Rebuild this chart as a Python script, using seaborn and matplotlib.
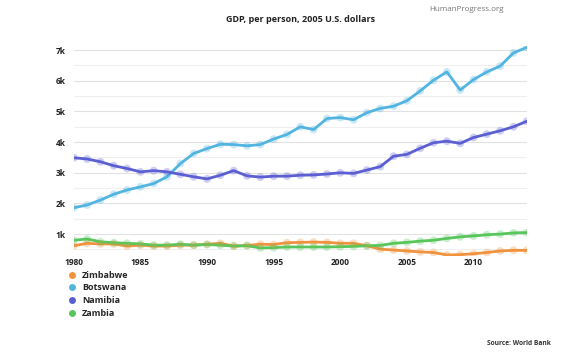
import matplotlib.pyplot as plt
import matplotlib.ticker as mticker
from matplotlib.lines import Line2D
import pandas as pd
import seaborn as sns

years = list(range(1980, 2015))

zimbabwe = [620, 700, 680, 680, 610, 640, 610, 610, 640, 640,
            670, 700, 610, 630, 670, 660, 720, 730, 740, 730,
            700, 700, 620, 510, 480, 450, 420, 400, 320, 330,
            360, 400, 450, 470, 470]
botswana = [1860, 1950, 2110, 2300, 2440, 2540, 2650, 2870, 3300, 3630,
            3790, 3930, 3920, 3880, 3920, 4100, 4250, 4500, 4410, 4770,
            4800, 4730, 4960, 5100, 5170, 5350, 5670, 6020, 6290, 5700,
            6040, 6290, 6480, 6910, 7090]
namibia = [3490, 3450, 3360, 3230, 3140, 3030, 3070, 3030, 2950, 2870,
           2800, 2920, 3070, 2900, 2860, 2890, 2890, 2920, 2930, 2960,
           3000, 2980, 3090, 3200, 3540, 3600, 3800, 3980, 4030, 3960,
           4150, 4260, 4370, 4500, 4680]
zambia = [800, 840, 750, 720, 700, 680, 640, 640, 670, 640,
          660, 640, 610, 620, 550, 560, 580, 580, 580, 580,
          590, 600, 620, 630, 700, 730, 770, 800, 860, 910,
          940, 980, 1000, 1040, 1050]

countries = ["Zimbabwe", "Botswana", "Namibia", "Zambia"]
colors = ["#f0923e", "#52b4e0", "#5b5fd2", "#57c75c"]

df = pd.DataFrame({
    "year": years * 4,
    "gdp": zimbabwe + botswana + namibia + zambia,
    "country": [c for c in countries for _ in years],
})
palette = dict(zip(countries, colors))

sns.set_theme(style="white")
plt.rcParams["font.family"] = ["Open Sans", "DejaVu Sans"]

fig = plt.figure(figsize=(5.72, 3.53), dpi=100)
ax = fig.add_axes([0.129, 0.276, 0.792, 0.595])

sns.lineplot(data=df, x="year", y="gdp", hue="country", palette=palette,
             hue_order=countries, linewidth=2, ax=ax, legend=False, zorder=3)
sns.scatterplot(data=df, x="year", y="gdp", hue="country", palette=palette,
                hue_order=countries, s=32, alpha=0.3, linewidth=0, ax=ax,
                legend=False, zorder=4)

ax.set_xlim(1980, 2014)
ax.set_ylim(300, 7150)
ax.set_xlabel("")
ax.set_ylabel("")
ax.set_xticks([1980, 1985, 1990, 1995, 2000, 2005, 2010])
ax.yaxis.set_major_locator(mticker.MultipleLocator(1000))
ax.yaxis.set_minor_locator(mticker.MultipleLocator(500))
ax.yaxis.set_major_formatter(mticker.FuncFormatter(lambda v, p: f"{int(v / 1000)}k"))
ax.grid(axis="y", which="major", color="#e2e2e2", linewidth=0.8, zorder=0)
ax.grid(axis="y", which="minor", color="#efefef", linewidth=0.8, zorder=0)
ax.tick_params(axis="y", which="both", length=0, labelsize=6, pad=6)
ax.tick_params(axis="x", which="both", length=0, labelsize=6, pad=2)
for lab in ax.get_xticklabels() + ax.get_yticklabels():
    lab.set_fontweight("bold")
    lab.set_color("#222222")
for s in ax.spines.values():
    s.set_visible(False)

fig.text(0.525, 0.945, "GDP, per person, 2005 U.S. dollars", ha="center",
         va="center", fontsize=6.5, fontweight="bold", color="#222222")
fig.text(0.88, 0.972, "HumanProgress.org", ha="right", va="center",
         fontsize=5.8, color="#777777")
fig.text(0.963, 0.028, "Source: World Bank", ha="right", va="center",
         fontsize=4.8, fontweight="bold", color="#333333")

handles = [Line2D([], [], marker="o", linestyle="", markersize=5,
                  markerfacecolor=c, markeredgewidth=0) for c in colors]
fig.legend(handles, countries, loc="upper left", bbox_to_anchor=(0.11, 0.243),
           frameon=False, prop={"size": 6.5, "weight": "bold"},
           handletextpad=0.5, labelspacing=0.4, handlelength=1.2,
           borderaxespad=0)

fig.savefig("out.png", dpi=100)
